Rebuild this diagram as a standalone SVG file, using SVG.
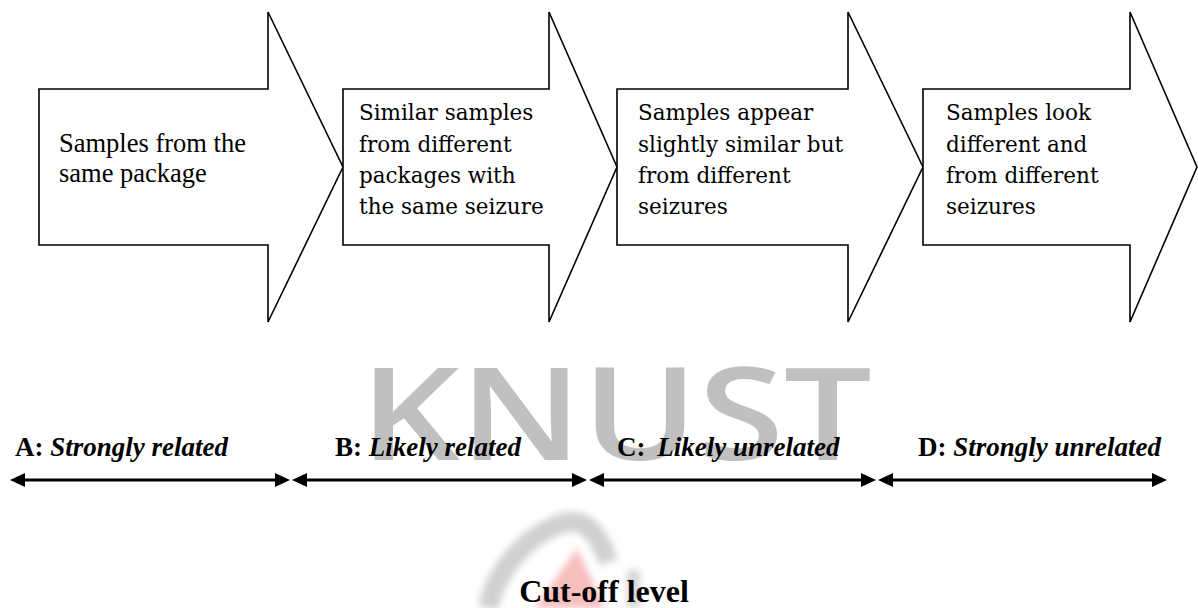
<svg xmlns="http://www.w3.org/2000/svg" width="1198" height="608" viewBox="0 0 1198 608">
  <style>
    .box { fill: #ffffff; stroke: #000000; stroke-width: 1.6; stroke-linejoin: miter; }
    .t1 { font-family: "Liberation Serif", "Times New Roman", serif; font-size: 26.5px; fill: #000; }
    .t2 { font-family: "DejaVu Serif", "Liberation Serif", serif; font-size: 21.5px; fill: #000; }
    .lbl { font-family: "Liberation Serif", "Times New Roman", serif; font-size: 27px; font-weight: bold; fill: #000; }
    .it { font-style: italic; }
    .cut { font-family: "Liberation Serif", "Times New Roman", serif; font-size: 32px; font-weight: bold; fill: #000; }
    .wm { font-family: "Open Sans", "Noto Sans", sans-serif; font-size: 129px; font-weight: 600; fill: #c0c0c0; }
    .conn { stroke: #000; stroke-width: 3; fill: none; }
  </style>
  <defs>
    <marker id="ah" viewBox="0 0 15 14" refX="2" refY="7" markerWidth="15" markerHeight="14" markerUnits="userSpaceOnUse" orient="auto-start-reverse">
      <path d="M0,0 L15,7 L0,14 z" fill="#000"/>
    </marker>
    <filter id="blur" x="-20%" y="-20%" width="140%" height="140%">
      <feGaussianBlur stdDeviation="3.5"/>
    </filter>
  </defs>
  <rect width="1198" height="608" fill="#ffffff"/>

  <!-- watermark -->
  <g id="watermark">
    <text class="wm" x="360" y="460" textLength="512" lengthAdjust="spacingAndGlyphs">KNUST</text>
    <g filter="url(#blur)" opacity="0.7">
      <path d="M488,608 C495,575 520,540 560,524 C585,515 600,535 608,562" stroke="#bdbdbd" stroke-width="20" fill="none"/>
      <polygon points="577,548 535,608 605,608" fill="#f5a3a3"/>
      <rect x="627" y="570" width="13" height="38" fill="#c4c4c4"/>
    </g>
  </g>

  <g id="node-a">
    <polygon class="box" points="39,89 268,89 268,12 343,167 268,322 268,245 39,245"/>
    <text class="t1" x="59" y="152">Samples from the</text>
    <text class="t1" x="59" y="182">same package</text>
  </g>
  <g id="node-b">
    <polygon class="box" points="343,89 549,89 549,12 617,167 549,322 549,245 343,245"/>
    <text class="t2" x="359" y="120">Similar samples</text>
    <text class="t2" x="359" y="152">from different</text>
    <text class="t2" x="359" y="183">packages with</text>
    <text class="t2" x="359" y="214">the same seizure</text>
  </g>
  <g id="node-c">
    <polygon class="box" points="617,89 848,89 848,12 923,167 848,322 848,245 617,245"/>
    <text class="t2" x="638" y="120">Samples appear</text>
    <text class="t2" x="638" y="152">slightly similar but</text>
    <text class="t2" x="638" y="183">from different</text>
    <text class="t2" x="638" y="214">seizures</text>
  </g>
  <g id="node-d">
    <polygon class="box" points="923,89 1130,89 1130,12 1197,167 1130,322 1130,245 923,245"/>
    <text class="t2" x="946" y="120">Samples look</text>
    <text class="t2" x="946" y="152">different and</text>
    <text class="t2" x="946" y="183">from different</text>
    <text class="t2" x="946" y="214">seizures</text>
  </g>

  <g id="label-a"><text class="lbl" x="15" y="456">A: <tspan class="it">Strongly related</tspan></text></g>
  <g id="label-b"><text class="lbl" x="335" y="456">B: <tspan class="it">Likely related</tspan></text></g>
  <g id="label-c"><text class="lbl" x="617" y="456">C: <tspan class="it" dx="5">Likely unrelated</tspan></text></g>
  <g id="label-d"><text class="lbl" x="918" y="456">D: <tspan class="it">Strongly unrelated</tspan></text></g>

  <g id="connectors">
    <line class="conn" x1="23" y1="480" x2="277" y2="480" marker-start="url(#ah)" marker-end="url(#ah)"/>
    <line class="conn" x1="305" y1="480" x2="574" y2="480" marker-start="url(#ah)" marker-end="url(#ah)"/>
    <line class="conn" x1="602" y1="480" x2="863" y2="480" marker-start="url(#ah)" marker-end="url(#ah)"/>
    <line class="conn" x1="891" y1="480" x2="1154" y2="480" marker-start="url(#ah)" marker-end="url(#ah)"/>
  </g>

  <g id="cutoff">
    <text class="cut" x="604" y="602" text-anchor="middle">Cut-off level</text>
  </g>
</svg>
